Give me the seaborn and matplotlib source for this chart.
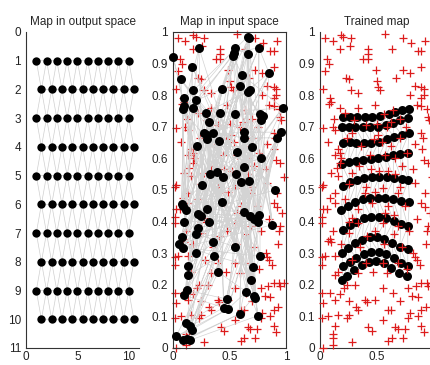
import numpy as np
import matplotlib
matplotlib.use('Agg')
from matplotlib import pyplot as plt
import seaborn as sns


# red + samples, same set in the input-space panels
sample_x = [0.04, 0.11, 0.18, 0.20, 0.27, 0.57, 0.73, 0.80, 0.92, 0.175, 0.26, 0.42, 0.42, 0.38, 0.42, 0.635, 0.86, 0.89, 0.06, 0.08,
            0.04, 0.49, 0.73, 0.79, 0.89, 0.225, 0.25, 0.67, 0.50, 0.51, 0.53, 0.83, 0.89, 0.91, 0.03, 0.27, 0.336, 0.79, 0.91,
            0.89, 0.09, 0.10, 0.08, 0.175, 0.336, 0.48, 0.64, 0.85, 0.89, 0.94, 0.95, 0.125, 0.11, 0.13, 0.50, 0.59, 0.30, 0.40, 0.70, 0.96, 0.22, 0.56, 0.62, 0.75,
            0.89, 0.073, 0.16, 0.175, 0.13, 0.185, 0.47, 0.54, 0.51, 0.44, 0.76, 0.90, 0.91, 0.833, 0.892, 0.28, 0.36, 0.62, 0.70, 0.24, 0.03, 0.57, 0.66,
            0.175, 0.146, 0.278, 0.34, 0.16, 0.015, 0.45, 0.52, 0.60, 0.66, 0.72, 0.833, 0.95, 0.03, 0.25, 0.40, 0.55, 0.82, 0.70, 0.10, 0.98,
            0.92, 0.132, 0.088, 0.395, 0.483, 0.687, 0.89, 0.92, 0.965, 0.03, 0.06, 0.13, 0.336, 0.453, 0.60, 0.746, 0.02, 0.57, 0.85, 0.278, 0.65, 0.22,
            0.015, 0.25, 0.336, 0.55, 0.687, 0.117, 0.25, 0.41, 0.65, 0.78, 0.088, 0.936, 0.95, 0.56, 0.07, 0.10, 0.93, 0.35, 0.48, 0.18, 0.72, 0.82,
            0.015, 0.015, 0.04, 0.13, 0.13, 0.16, 0.336, 0.468, 0.59, 0.83, 0.85, 0.88, 0.234, 0.31, 0.28, 0.40, 0.55, 0.68, 0.76, 0.89, 0.94, 0.985,
            0.21, 0.088, 0.175, 0.13, 0.643, 0.81, 0.25, 0.395, 0.41, 0.483, 0.32, 0.336, 0.60, 0.625, 0.89, 0.93, 0.79, 0.015, 0.03, 0.86, 0.84, 0.95, 0.775, 0.55, 0.70,
            0.015, 0.07, 0.16, 0.234, 0.25, 0.775, 0.86, 0.132, 0.424, 0.453, 0.66, 0.68, 0.746, 0.89, 0.117, 0.117, 0.63, 0.60, 0.73, 0.278, 0.03, 0.117, 0.91, 0.55]
sample_y = [0.98, 0.97, 0.99, 0.985, 0.98, 0.995, 0.98, 0.966, 0.97, 0.945, 0.955, 0.945, 0.93, 0.916, 0.913, 0.945, 0.94, 0.94, 0.913, 0.90,
            0.877, 0.88, 0.88, 0.87, 0.89, 0.856, 0.85, 0.856, 0.846, 0.827, 0.815, 0.83, 0.825, 0.82, 0.82, 0.817, 0.806, 0.80, 0.80,
            0.79, 0.79, 0.78, 0.772, 0.76, 0.76, 0.768, 0.752, 0.77, 0.765, 0.757, 0.73, 0.725, 0.70, 0.69, 0.71, 0.70, 0.72, 0.705, 0.725, 0.72, 0.745, 0.74, 0.715, 0.70,
            0.68, 0.652, 0.631, 0.616, 0.61, 0.60, 0.66, 0.653, 0.675, 0.61, 0.616, 0.665, 0.594, 0.645, 0.63, 0.68, 0.64, 0.64, 0.665, 0.665, 0.695, 0.61, 0.60,
            0.584, 0.57, 0.553, 0.575, 0.543, 0.511, 0.565, 0.56, 0.56, 0.55, 0.575, 0.522, 0.585, 0.516, 0.52, 0.51, 0.505, 0.565, 0.51, 0.555, 0.54,
            0.49, 0.491, 0.475, 0.49, 0.495, 0.49, 0.46, 0.445, 0.428, 0.44, 0.44, 0.46, 0.44, 0.46, 0.45, 0.45, 0.415, 0.428, 0.407, 0.41, 0.42, 0.47,
            0.397, 0.40, 0.395, 0.397, 0.385, 0.37, 0.365, 0.355, 0.36, 0.37, 0.345, 0.37, 0.385, 0.33, 0.34, 0.335, 0.33, 0.32, 0.37, 0.33, 0.32, 0.30,
            0.288, 0.263, 0.29, 0.29, 0.23, 0.242, 0.237, 0.242, 0.237, 0.288, 0.28, 0.262, 0.20, 0.20, 0.28, 0.27, 0.27, 0.27, 0.25, 0.205, 0.205, 0.205,
            0.19, 0.174, 0.17, 0.153, 0.174, 0.164, 0.15, 0.153, 0.145, 0.153, 0.13, 0.12, 0.12, 0.12, 0.12, 0.13, 0.11, 0.173, 0.142, 0.16, 0.195, 0.195, 0.19, 0.19, 0.15,
            0.096, 0.10, 0.106, 0.096, 0.106, 0.096, 0.10, 0.07, 0.065, 0.055, 0.068, 0.06, 0.06, 0.07, 0.044, 0.033, 0.033, 0.023, 0.033, 0.02, 0.0, 0.008, 0.05, 0.09]

# output space grid (hexagonal, every other row shifted by half)
out_cols_odd = [1, 2, 3, 4, 5, 6, 7, 8, 9, 10]
out_cols_even = [1.5, 2.5, 3.5, 4.5, 5.5, 6.5, 7.5, 8.5, 9.5, 10.5]
out_rows = [1, 2, 3, 4, 5, 6, 7, 8, 9, 10]

# randomly initialised map, upper and lower half of the panel
init_top_x = [0.003, 0.23, 0.17, 0.07, 0.10, 0.095, 0.09, 0.18, 0.205, 0.18, 0.43, 0.55, 0.54, 0.53, 0.66, 0.675,
              0.66, 0.76, 0.61, 0.59, 0.66, 0.68, 0.85, 0.97, 0.77, 0.78, 0.29, 0.32, 0.42, 0.55, 0.27, 0.30,
              0.35, 0.30, 0.21, 0.41, 0.63, 0.63, 0.57, 0.70, 0.78, 0.96, 0.92, 0.63, 0.33, 0.39]
init_top_y = [0.921, 0.95, 0.89, 0.85, 0.79, 0.765, 0.755, 0.76, 0.785, 0.815, 0.82, 0.95, 0.935, 0.925, 0.985, 0.98,
              0.93, 0.95, 0.865, 0.83, 0.81, 0.815, 0.87, 0.76, 0.74, 0.72, 0.745, 0.715, 0.745, 0.74, 0.68, 0.675,
              0.68, 0.66, 0.64, 0.655, 0.683, 0.665, 0.621, 0.636, 0.60, 0.683, 0.665, 0.574, 0.55, 0.558]
init_low_x = [0.26, 0.60, 0.67, 0.90, 0.43, 0.077, 0.092, 0.117, 0.30, 0.217, 0.247, 0.32, 0.098, 0.63, 0.68, 0.72,
              0.76, 0.75, 0.88, 0.225, 0.205, 0.077, 0.056, 0.092, 0.354, 0.55, 0.205, 0.36, 0.77, 0.13, 0.137, 0.40,
              0.71, 0.69, 0.122, 0.10, 0.65, 0.72, 0.73, 0.475, 0.45, 0.485, 0.59, 0.75, 0.117, 0.152, 0.167, 0.027,
              0.086, 0.122, 0.152, 0.56, 0.44, 0.80]
init_low_y = [0.517, 0.525, 0.53, 0.50, 0.463, 0.456, 0.449, 0.438, 0.44, 0.425, 0.418, 0.40, 0.40, 0.43, 0.418, 0.407,
              0.42, 0.40, 0.39, 0.38, 0.362, 0.35, 0.329, 0.318, 0.335, 0.32, 0.30, 0.292, 0.29, 0.26, 0.23, 0.24,
              0.257, 0.215, 0.183, 0.167, 0.178, 0.164, 0.158, 0.155, 0.128, 0.123, 0.108, 0.102, 0.079, 0.069, 0.058, 0.037,
              0.025, 0.027, 0.025, 0.55, 0.54, 0.735]

# trained map, one list per map row
trained_x = [[0.205, 0.263, 0.322, 0.395, 0.453, 0.526, 0.605, 0.658, 0.722, 0.780],
             [0.19, 0.25, 0.31, 0.375, 0.44, 0.505, 0.575, 0.64, 0.705, 0.77],
             [0.20, 0.26, 0.32, 0.385, 0.45, 0.515, 0.585, 0.65, 0.715, 0.78],
             [0.19, 0.25, 0.315, 0.38, 0.445, 0.51, 0.575, 0.64, 0.705, 0.77],
             [0.205, 0.265, 0.325, 0.39, 0.455, 0.52, 0.585, 0.65, 0.715, 0.775],
             [0.185, 0.245, 0.31, 0.375, 0.44, 0.505, 0.57, 0.64, 0.71, 0.785],
             [0.205, 0.26, 0.32, 0.385, 0.45, 0.515, 0.58, 0.645, 0.71, 0.77],
             [0.19, 0.245, 0.305, 0.37, 0.435, 0.5, 0.565, 0.63, 0.70, 0.77],
             [0.205, 0.26, 0.32, 0.385, 0.45, 0.515, 0.58, 0.645, 0.71, 0.77],
             [0.19, 0.24, 0.30, 0.365, 0.43, 0.495, 0.56, 0.625, 0.695, 0.765]]
trained_y = [[0.731, 0.731, 0.730, 0.731, 0.731, 0.733, 0.739, 0.746, 0.754, 0.757],
             [0.700, 0.700, 0.699, 0.698, 0.698, 0.700, 0.705, 0.712, 0.722, 0.727],
             [0.650, 0.652, 0.650, 0.648, 0.650, 0.653, 0.660, 0.667, 0.675, 0.680],
             [0.582, 0.588, 0.592, 0.595, 0.598, 0.601, 0.605, 0.610, 0.614, 0.617],
             [0.512, 0.524, 0.532, 0.537, 0.540, 0.541, 0.540, 0.538, 0.535, 0.532],
             [0.437, 0.450, 0.461, 0.470, 0.475, 0.476, 0.475, 0.471, 0.466, 0.462],
             [0.372, 0.388, 0.400, 0.410, 0.414, 0.414, 0.410, 0.402, 0.392, 0.385],
             [0.302, 0.318, 0.331, 0.342, 0.350, 0.351, 0.345, 0.333, 0.320, 0.312],
             [0.258, 0.272, 0.286, 0.298, 0.304, 0.303, 0.296, 0.284, 0.268, 0.258],
             [0.215, 0.229, 0.246, 0.262, 0.272, 0.274, 0.268, 0.253, 0.238, 0.228]]

unit_ticks = [0, 0.1, 0.2, 0.3, 0.4, 0.5, 0.6, 0.7, 0.8, 0.9, 1]
unit_labels = ['0', '0.1', '0.2', '0.3', '0.4', '0.5', '0.6', '0.7', '0.8', '0.9', '1']
half_ticks = [0, 0.5, 1]
half_labels = ['0', '0.5', '1']


def hex_edges(gx, gy):
    # neighbour links of a 10x10 hexagonal lattice, NaN-separated
    xs, ys = [], []
    n_r, n_c = gx.shape
    for r in range(n_r):
        for c in range(n_c):
            nb = []
            if c + 1 < n_c:
                nb.append((r, c + 1))
            if r + 1 < n_r:
                cols = [c - 1, c] if r % 2 == 0 else [c, c + 1]
                for cc in cols:
                    if 0 <= cc < n_c:
                        nb.append((r + 1, cc))
            for rr, cc in nb:
                xs += [gx[r, c], gx[rr, cc], np.nan]
                ys += [gy[r, c], gy[rr, cc], np.nan]
    return xs, ys


def style(ax, box=False):
    ax.set_facecolor('white')
    ax.tick_params(direction='in', length=3, width=0.6, labelsize=8.5,
                   colors='#222222', pad=3.5)
    ax.tick_params(axis='x', pad=2)
    for s in ax.spines.values():
        s.set_linewidth(0.8)
        s.set_color('#333333')
    if not box:
        ax.spines['top'].set_visible(False)
        ax.spines['right'].set_visible(False)


sns.set_style('white')
plt.rcParams['font.family'] = ['Liberation Sans', 'DejaVu Sans']

# output space positions
out_gx = np.array([out_cols_odd if i % 2 == 0 else out_cols_even for i in range(len(out_rows))], dtype=float)
out_gy = np.array([[r] * len(out_cols_odd) for r in out_rows], dtype=float)

# initial map: alternate upper / lower half neurons
init_x, init_y = [], []
for i in range(len(init_low_x)):
    if i < len(init_top_x):
        init_x.append(init_top_x[i])
        init_y.append(init_top_y[i])
    init_x.append(init_low_x[i])
    init_y.append(init_low_y[i])
init_gx = np.array(init_x).reshape(10, 10)
init_gy = np.array(init_y).reshape(10, 10)

tr_gx = np.array(trained_x)
tr_gy = np.array(trained_y)

fig = plt.figure(figsize=(4.3, 3.65), dpi=100)
fig.patch.set_facecolor('white')
bot, hgt, wid = 17 / 365, 316 / 365, 113 / 430
ax1 = fig.add_axes([26 / 430, bot, wid, hgt])
ax2 = fig.add_axes([173 / 430, bot, wid, hgt])
ax3 = fig.add_axes([320 / 430, bot, 114 / 430, hgt])

# left: map in output space
ex, ey = hex_edges(out_gx, out_gy)
ax1.plot(ex, ey, color='#cfcfcf', lw=0.5, zorder=1)
sns.scatterplot(x=out_gx.ravel(), y=out_gy.ravel(), ax=ax1, color='black', s=36,
                linewidth=0, legend=False, zorder=3)
ax1.set_xlim(0, 11)
ax1.set_ylim(11, 0)
ax1.set_xticks([0, 5, 10])
ax1.set_yticks(list(range(0, 12)))
style(ax1)
ax1.set_title('Map in output space', fontsize=8.5, pad=5)

# middle: random map in input space
sns.scatterplot(x=sample_x, y=sample_y, ax=ax2, marker='+', color='#dd1c1c', s=38,
                linewidth=0.9, legend=False, zorder=1)
ex, ey = hex_edges(init_gx, init_gy)
ax2.plot(ex, ey, color='#d3d3d3', lw=0.5, zorder=2)
sns.scatterplot(x=init_gx.ravel(), y=init_gy.ravel(), ax=ax2, color='black', s=42,
                linewidth=0, legend=False, zorder=3)
ax2.set_xlim(0, 1)
ax2.set_ylim(0, 1)
ax2.set_xticks(half_ticks, half_labels)
ax2.set_yticks(unit_ticks, unit_labels)
style(ax2, box=True)
ax2.set_title('Map in input space', fontsize=8.5, pad=5)

# right: trained map (its x=1 end runs past the picture edge)
ex, ey = hex_edges(tr_gx, tr_gy)
ax3.plot(ex, ey, color='#cccccc', lw=0.5, zorder=1)
sns.scatterplot(x=tr_gx.ravel(), y=tr_gy.ravel(), ax=ax3, color='black', s=42,
                linewidth=0, legend=False, zorder=2)
sns.scatterplot(x=sample_x, y=sample_y, ax=ax3, marker='+', color='#dd1c1c', s=38,
                linewidth=0.9, legend=False, zorder=3)
ax3.set_xlim(0, 1)
ax3.set_ylim(0, 1)
ax3.set_xticks(half_ticks[:2], half_labels[:2])
ax3.set_yticks(unit_ticks, unit_labels)
style(ax3)
ax3.set_title('Trained map', fontsize=8.5, pad=5)

for ax in (ax1, ax2, ax3):
    ax.set_xlabel('')
    ax.set_ylabel('')
    for p in ax.collections:
        p.set_clip_on(False)

fig.savefig('out.png', dpi=100, facecolor='white')
